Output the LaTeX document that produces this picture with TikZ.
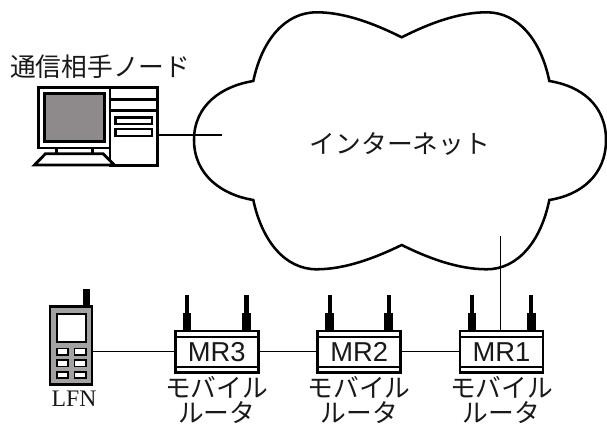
\documentclass[tikz,border=0pt]{standalone}
\usepackage{fontspec}
\setmainfont{Liberation Sans}
\newfontfamily\cjk{Noto Sans CJK JP}
\newfontfamily\serifface{Liberation Serif}
\definecolor{screengray}{HTML}{8E8A8B}
\definecolor{phonegray}{HTML}{A3A1A2}
\tikzset{
  px/.style={x=0.75pt,y=-0.75pt},
  cloudline/.style={line width=1.9pt,line join=miter,fill=white},
  conn/.style={line width=0.85pt,black},
  thick part/.style={draw=black,line width=2.1pt,fill=white,line join=miter},
  routerbox/.style={draw=black,line width=2.2pt,fill=white,inner sep=0pt,outer sep=0pt,minimum width=62.25pt,minimum height=31pt,font=\fontsize{20.5}{22}\selectfont,text=black!90},
  solidblack/.style={fill=black,draw=none},
  jp/.style={font=\cjk\fontsize{19.3}{21}\selectfont,text=black!90,inner sep=0pt},
  lfnlabel/.style={font=\serifface\fontsize{17.8}{19}\selectfont,text=black!90,inner sep=0pt},
}
\newcommand{\mkrouter}[3]{%
  % #1 name, #2 left x, #3 label
  \fill[solidblack] (#2+8.7,313) rectangle (#2+17,331);
  \fill[solidblack] (#2+11,295) rectangle (#2+15,314);
  \fill[solidblack] (#2+67.7,313) rectangle (#2+76.7,331);
  \fill[solidblack] (#2+70,295) rectangle (#2+74.3,314);
  \node[routerbox] (#1) at (#2+42.5,351.7) {\raisebox{-0.5pt}{#3}};
  \draw[line width=2.2pt] (#2+1,337) -- (#2+84,337);
  \draw[line width=2.2pt] (#2+1,367) -- (#2+84,367);
  \node[jp] (#1a) at (#2+42.5,387) {モバイル};
  \node[jp] (#1b) at (#2+42.5,413) {ルータ};
}
\begin{document}
\begin{tikzpicture}[px]
\useasboundingbox (0,0) rectangle (607,427);
% connector that ends inside the cloud
\coordinate (cloudA) at (222.3,135);
\coordinate (cloudB) at (500.7,236);
% cloud
\draw[cloudline] (253.3,81)
  .. controls (262,40) and (285,12.3) .. (316.7,12.3)
  .. controls (345,12.3) and (375,24) .. (401.7,37.3)
  .. controls (428,24) and (458,12.3) .. (486.7,12.3)
  .. controls (518,12.3) and (541,40) .. (549.3,81)
  .. controls (581,86) and (606,105) .. (606,140)
  .. controls (606,175) and (581,195) .. (549.3,200)
  .. controls (541,241) and (518,269.3) .. (486.7,269.3)
  .. controls (458,269.3) and (428,258) .. (401.7,245)
  .. controls (375,258) and (345,269.3) .. (316.7,269.3)
  .. controls (285,269.3) and (262,241) .. (253.3,200)
  .. controls (222,195) and (194,175) .. (194,140)
  .. controls (194,105) and (222,86) .. (253.3,81) -- cycle;
\node[jp] (inet) at (400,144) {インターネット};
% computer
\node[jp,anchor=west] (cnlabel) at (10,67) {通信相手ノード};
\draw[thick part] (110,87.5) rectangle (157.5,165.5);
\node[inner sep=0pt,outer sep=0pt,minimum width=35.6pt,minimum height=58.5pt] (tower) at (133.75,126.5) {};
\draw[line width=2.1pt] (110,99.5) -- (157.5,99.5);
\draw[line width=2.1pt] (110,110.5) -- (157.5,110.5);
\draw[thick part] (115.5,117.5) rectangle (152,124);
\draw[thick part] (115.5,129) rectangle (152,136);
\draw[thick part] (38.5,87.5) rectangle (110,148);
\draw[draw=black,line width=1.6pt,fill=screengray] (44.5,93.5) rectangle (104.5,141.5);
\draw[line width=2.1pt] (56.5,148) -- (56.5,153.5);
\draw[line width=2.1pt] (92.5,148) -- (92.5,153.5);
\draw[thick part] (34.5,165) -- (45.5,153.7) -- (103,153.7) -- (114.5,165) -- cycle;
% phone
\fill[solidblack] (82.7,289.3) rectangle (90,306);
\node[draw=black,line width=2pt,fill=phonegray,inner sep=0pt,outer sep=0pt,minimum width=31.5pt,minimum height=58.5pt] (phone) at (71,345.5) {};
\draw[draw=black,line width=1.4pt,fill=white] (57,313.7) rectangle (86,342);
\foreach \yy in {348.5,360.2,371.9}{
  \draw[draw=black,line width=1.4pt,fill=white] (57,\yy) rectangle (68,\yy+6.3);
  \draw[draw=black,line width=1.4pt,fill=white] (74.5,\yy) rectangle (86,\yy+6.3);
}
\node[lfnlabel] (lfn) at (74,399) {LFN};
% routers
\mkrouter{mrthree}{174.2}{MR3}
\mkrouter{mrtwo}{316.7}{MR2}
\mkrouter{mrone}{459}{MR1}
% connectors
\draw[conn] (tower.east |- cloudA) -- (cloudA);
\draw[conn] (phone.east |- mrthree.west) -- (mrthree.west);
\draw[conn] (mrthree.east) -- (mrtwo.west);
\draw[conn] (mrtwo.east) -- (mrone.west);
\draw[conn] (cloudB) -- (cloudB |- mrone.north);
\end{tikzpicture}
\end{document}
